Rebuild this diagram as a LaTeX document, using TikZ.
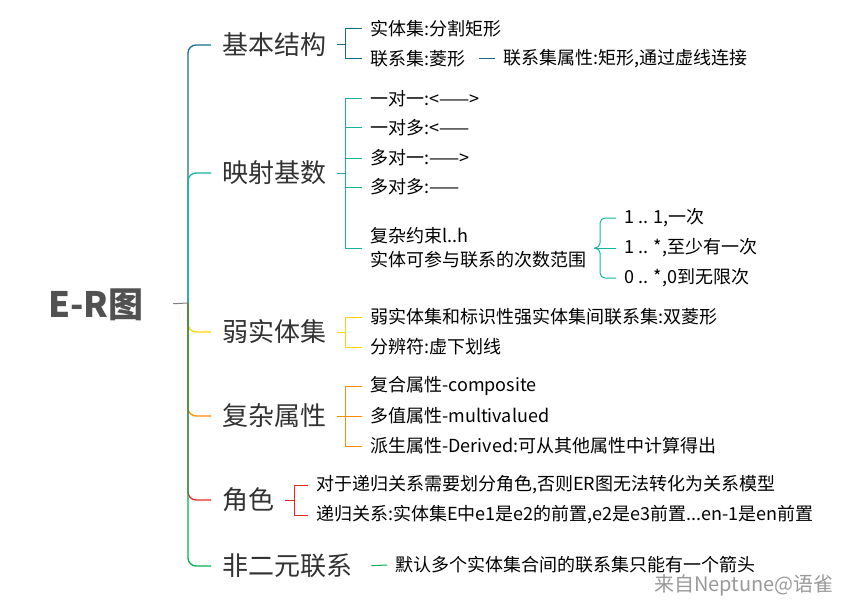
\documentclass[tikz,border=0pt]{standalone}
\usepackage{fontspec}
\setmainfont{Noto Sans CJK SC}
\usepackage{tikz}
\usetikzlibrary{calc}
\definecolor{cbasic}{RGB}{22,110,140}
\definecolor{cmap}{RGB}{20,180,160}
\definecolor{cweak}{RGB}{255,212,0}
\definecolor{cattr}{RGB}{255,140,0}
\definecolor{crole}{RGB}{232,40,30}
\definecolor{cnary}{RGB}{0,176,80}
\definecolor{ctext}{RGB}{50,50,50}
\tikzstyle{root} = [font=\fontsize{35}{40}\selectfont\bfseries, text=ctext!85]
\tikzstyle{topic} = [anchor=west, inner xsep=11pt, font=\fontsize{26}{30}\selectfont, text=ctext]
\tikzstyle{leaf} = [anchor=west, inner xsep=8pt, inner ysep=2pt, font=\fontsize{18}{24}\selectfont, text=black, align=left]
\tikzstyle{trunk} = [draw, line width=1.3pt, rounded corners=8pt]
\tikzstyle{twig} = [draw, line width=1pt]
\tikzstyle{watermark} = [anchor=east, inner sep=0pt, font=\fontsize{20}{24}\selectfont, text=black!40]

\begin{document}
\begin{tikzpicture}[x=1pt, y=-1pt]
        \useasboundingbox (0,0) rectangle (843,607);
        \node[root] (er) at (96,305) {E-R图};
        \coordinate (hub) at (188,303);
        \node[topic] (basic) at (211,45) {基本结构};
        \node[topic] (mapping) at (211,173) {映射基数};
        \node[topic] (weak) at (211,332) {弱实体集};
        \node[topic] (attr) at (211,416) {复杂属性};
        \node[topic] (role) at (211,500) {角色};
        \node[topic] (nary) at (211,566) {非二元联系};
        % basic structure
        \node[leaf] (entity) at (362,29) {实体集:分割矩形};
        \node[leaf] (relset) at (362,59) {联系集:菱形};
        \node[leaf] (relattr) at (495,59) {联系集属性:矩形,通过虚线连接};
        % mapping cardinality
        \node[leaf] (oneone) at (362,99) {一对一:<——>};
        \node[leaf] (onemany) at (362,128) {一对多:<——};
        \node[leaf] (manyone) at (362,158) {多对一:——>};
        \node[leaf] (manymany) at (362,187) {多对多:——};
        \node[leaf] (complex) at (362,248) {复杂约束l..h\\实体可参与联系的次数范围};
        \node[leaf] (once) at (616,218) {1 .. 1,一次};
        \node[leaf] (atleast) at (616,248) {1 .. *,至少有一次};
        \node[leaf] (anynum) at (616,278) {0 .. *,0到无限次};
        % weak entity set
        \node[leaf] (weakrel) at (362,317) {弱实体集和标识性强实体集间联系集:双菱形};
        \node[leaf] (discr) at (362,347) {分辨符:虚下划线};
        % complex attributes
        \node[leaf] (compos) at (362,386) {复合属性-composite};
        \node[leaf] (multi) at (362,416) {多值属性-multivalued};
        \node[leaf] (derived) at (362,446) {派生属性-Derived:可从其他属性中计算得出};
        % roles
        \node[leaf] (rolediv) at (308,485) {对于递归关系需要划分角色,否则ER图无法转化为关系模型};
        \node[leaf] (recur) at (308,515) {递归关系:实体集E中e1是e2的前置,e2是e3前置...en-1是en前置};
        % non-binary
        \node[leaf] (arrowone) at (387,565) {默认多个实体集合间的联系集只能有一个箭头};
        \node[watermark] (credit) at (834,585) {来自Neptune@语雀};
        % trunk
        \path[twig, gray, shorten <=26pt] (er.east) -- (hub);
        \path[trunk, cbasic] (hub) |- (basic.west);
        \path[trunk, cmap] (hub) |- (mapping.west);
        \path[trunk, cweak] (hub) |- (weak.west);
        \path[trunk, cattr] (hub) |- (attr.west);
        \path[trunk, crole] (hub) |- (role.west);
        \path[trunk, cnary] (hub) |- (nary.west);
        % twigs
        \path[twig, cbasic] (basic.east) -| ($(entity.west)+(-17,0)$) -- (entity.west);
        \path[twig, cbasic] (basic.east) -| ($(relset.west)+(-17,0)$) -- (relset.west);
        \path[twig, cbasic, shorten <=6pt] (relset.east) -- (relattr.west);
        \path[twig, cmap] (mapping.east) -| ($(oneone.west)+(-17,0)$) -- (oneone.west);
        \path[twig, cmap] (mapping.east) -| ($(onemany.west)+(-17,0)$) -- (onemany.west);
        \path[twig, cmap] (mapping.east) -| ($(manyone.west)+(-17,0)$) -- (manyone.west);
        \path[twig, cmap] (mapping.east) -| ($(manymany.west)+(-17,0)$) -- (manymany.west);
        \path[twig, cmap] (mapping.east) -| ($(complex.west)+(-17,0)$) -- (complex.west);
        \path[twig, cmap, rounded corners=5pt] (complex.east) -| ($(once.west)+(-16,0)$) -- (once.west);
        \path[twig, cmap, rounded corners=5pt] (complex.east) -- (atleast.west);
        \path[twig, cmap, rounded corners=5pt] (complex.east) -| ($(anynum.west)+(-16,0)$) -- (anynum.west);
        \path[twig, cweak] (weak.east) -| ($(weakrel.west)+(-17,0)$) -- (weakrel.west);
        \path[twig, cweak] (weak.east) -| ($(discr.west)+(-17,0)$) -- (discr.west);
        \path[twig, cattr] (attr.east) -| ($(compos.west)+(-17,0)$) -- (compos.west);
        \path[twig, cattr] (attr.east) -- (multi.west);
        \path[twig, cattr] (attr.east) -| ($(derived.west)+(-17,0)$) -- (derived.west);
        \path[twig, crole] (role.east) -| ($(rolediv.west)+(-14,0)$) -- (rolediv.west);
        \path[twig, crole] (role.east) -| ($(recur.west)+(-14,0)$) -- (recur.west);
        \path[twig, cnary, shorten <=8pt] (nary.east) -- (arrowone.west);
    \end{tikzpicture}
\end{document}
